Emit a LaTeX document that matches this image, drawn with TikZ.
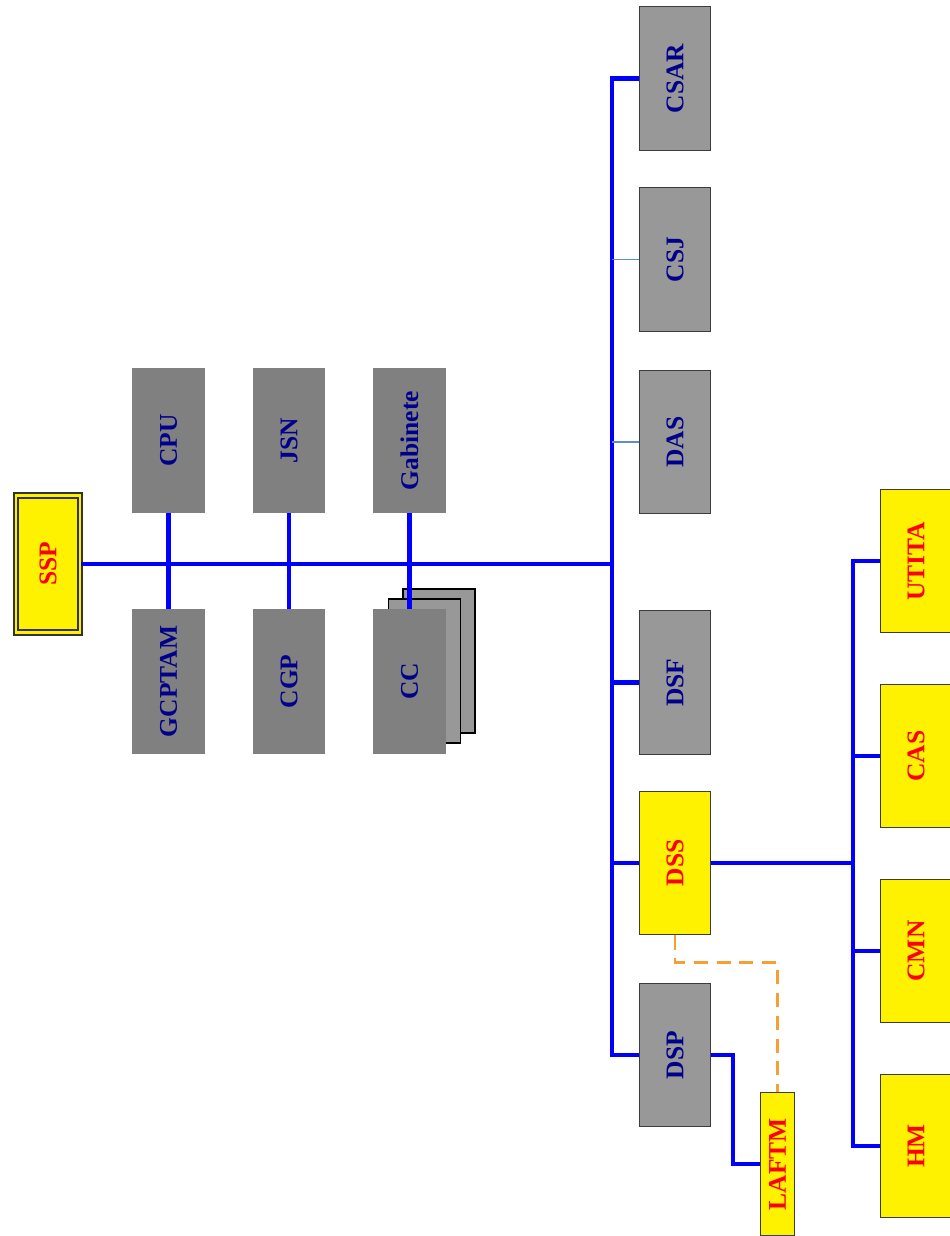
\documentclass[tikz,border=0pt]{standalone}
\usepackage{fontspec}
\setmainfont{Liberation Serif}
\usepackage{xcolor}
\definecolor{unitGray}{RGB}{128,128,128}
\definecolor{dirGray}{RGB}{152,152,152}
\definecolor{frameGray}{RGB}{60,60,60}
\definecolor{unitText}{RGB}{0,0,140}
\definecolor{linkBlue}{RGB}{0,0,255}
\definecolor{thinBlue}{RGB}{95,140,205}
\definecolor{dashOrange}{RGB}{245,160,50}

\begin{document}
\begin{tikzpicture}[
        x=0.02cm, y=-0.02cm,
        unit/.style={
                fill=unitGray,
                text=unitText,
                font=\bfseries\fontsize{14.5}{15}\selectfont,
                minimum width=1.46cm,
                minimum height=2.9cm,
                inner sep=0pt
            },
        direction/.style={
                unit,
                draw=frameGray,
                line width=0.8pt,
                fill=dirGray,
                minimum width=1.42cm,
                minimum height=2.87cm
            },
        service/.style={
                direction,
                fill=yellow,
                text=red
            },
        stacked/.style={
                draw=black,
                line width=0.7pt,
                fill=dirGray,
                minimum width=1.44cm,
                minimum height=2.88cm
            },
        link/.style={linkBlue, line width=2.3pt},
        thinlink/.style={thinBlue, line width=0.6pt},
        dotlink/.style={dashOrange, line width=1.4pt, dash pattern=on 8pt off 5pt}
    ]
    \useasboundingbox (0,0) rectangle (949,1236);

    % ---- Secretario ----
    \node[service, double=yellow, draw=black!80, double distance=1.6pt, line width=1pt,
        minimum width=1.28cm, minimum height=2.74cm] (ssp) at (48,564) {\rotatebox{90}{SSP}};

    % ---- Unidades de apoio ----
    \node[unit] (cpu) at (168.5,440.5) {\rotatebox{90}{CPU}};
    \node[unit] (jsn) at (289,440.5) {\rotatebox{90}{JSN}};
    \node[unit] (gab) at (409.5,440.5) {\rotatebox{90}{Gabinete}};
    \node[unit] (gcptam) at (168.5,681.5) {\rotatebox{90}{GCPTAM}};
    \node[unit] (cgp) at (289,681.5) {\rotatebox{90}{CGP}};

    % CC as a stack of sheets
    \node[stacked] (ccback) at (439,661) {};
    \node[stacked] (ccmid) at (424.5,671) {};
    \node[unit] (cc) at (409.5,681.5) {\rotatebox{90}{CC}};

    % ---- Direcoes ----
    \node[direction] (csar) at (675,78.5) {\rotatebox{90}{CSAR}};
    \node[direction] (csj) at (675,259.5) {\rotatebox{90}{CSJ}};
    \node[direction] (das) at (675,442) {\rotatebox{90}{DAS}};
    \node[direction] (dsf) at (675,682.5) {\rotatebox{90}{DSF}};
    \node[service] (dss) at (675,863) {\rotatebox{90}{DSS}};
    \node[direction] (dsp) at (675,1055) {\rotatebox{90}{DSP}};

    % ---- Servicos de saude ----
    \node[service] (utita) at (916,561) {\rotatebox{90}{UTITA}};
    \node[service] (cas) at (916,756) {\rotatebox{90}{CAS}};
    \node[service] (cmn) at (916,951) {\rotatebox{90}{CMN}};
    \node[service] (hm) at (916,1146) {\rotatebox{90}{HM}};
    \node[service, minimum width=0.68cm] (laftm) at (777.5,1164) {\rotatebox{90}{LAFTM}};

    % ---- Ligacoes ----
    \coordinate (hub) at (612,564);
    \coordinate (subhub) at (853,863);
    \draw[link] (ssp.east) -- (hub);
    \draw[link] (cpu.south) -- (gcptam.north);
    \draw[link] (jsn.south) -- (cgp.north);
    \draw[link] (gab.south) -- (cc.north);

    % trunk to the directions
    \draw[link] (csar.west) -- (csar.west -| hub) -- (dsp.west -| hub) -- (dsp.west);
    \draw[thinlink] (csj.west) -- (csj.west -| hub);
    \draw[thinlink] (das.west) -- (das.west -| hub);
    \draw[link] (dsf.west) -- (dsf.west -| hub);
    \draw[link] (dss.west) -- (dss.west -| hub);

    % DSS and its services
    \draw[link] (dss.east) -- (subhub);
    \draw[link] (utita.west) -- (utita.west -| subhub) -- (hm.west -| subhub) -- (hm.west);
    \draw[link] (cas.west) -- (cas.west -| subhub);
    \draw[link] (cmn.west) -- (cmn.west -| subhub);

    % DSP to LAFTM, and the dotted tie with DSS
    \draw[link] (dsp.east) -- ++(22,0) |- (laftm.west);
    \draw[dotlink] (dss.south) -- ++(0,27) -| (laftm.north);
\end{tikzpicture}
\end{document}
